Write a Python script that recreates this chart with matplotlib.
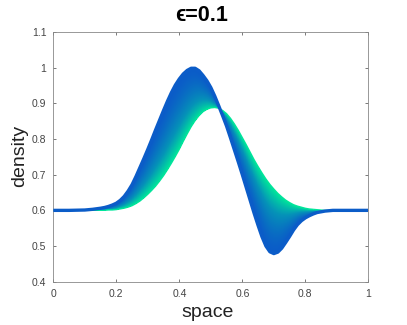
import numpy as np
import matplotlib
matplotlib.use("Agg")
import matplotlib.pyplot as plt
from matplotlib.colors import LinearSegmentedColormap, PowerNorm

plt.rcParams['font.family'] = ['Liberation Sans', 'DejaVu Sans']

# sample positions along the domain (denser where the profiles move)
x_space = [0.000, 0.050, 0.100, 0.125,
           0.1500, 0.1625, 0.1750, 0.1875, 0.2000, 0.2125, 0.2250, 0.2375,
           0.2500, 0.2625, 0.2750, 0.2875, 0.3000, 0.3125, 0.3250, 0.3375,
           0.3500, 0.3625, 0.3750, 0.3875, 0.4000, 0.4125, 0.4250, 0.4375,
           0.4500, 0.4625, 0.4750, 0.4875, 0.5000, 0.5125, 0.5250, 0.5375,
           0.5500, 0.5625, 0.5750, 0.5875, 0.6000, 0.6125, 0.6250, 0.6375,
           0.6500, 0.6625, 0.6750, 0.6875, 0.7000, 0.7125, 0.7250, 0.7375,
           0.7500, 0.7625, 0.7750, 0.7875, 0.8000, 0.8125, 0.8250, 0.8375,
           0.8500, 0.8625, 0.8750, 0.8875, 0.9000,
           0.950, 1.000]

# initial profile (thick blue curve)
rho_init = [0.600, 0.600, 0.601, 0.603,
            0.606, 0.608, 0.611, 0.615, 0.620, 0.628, 0.639, 0.654,
            0.672, 0.695, 0.720, 0.745, 0.771, 0.798, 0.826, 0.853,
            0.880, 0.906, 0.930, 0.951, 0.968, 0.982, 0.992, 0.998,
            0.998, 0.991, 0.978, 0.963, 0.944, 0.920, 0.893, 0.865,
            0.836, 0.803, 0.769, 0.735, 0.700, 0.664, 0.628, 0.592,
            0.558, 0.526, 0.500, 0.484, 0.479, 0.483, 0.494, 0.510,
            0.527, 0.545, 0.560, 0.571, 0.579, 0.585, 0.590, 0.594,
            0.596, 0.598, 0.599, 0.600, 0.600,
            0.600, 0.600]

# last profile (green curve)
rho_last = [0.600, 0.600, 0.600, 0.600,
            0.600, 0.600, 0.601, 0.601, 0.602, 0.604, 0.606, 0.609,
            0.613, 0.619, 0.626, 0.635, 0.645, 0.656, 0.668, 0.682,
            0.697, 0.714, 0.732, 0.751, 0.771, 0.793, 0.814, 0.834,
            0.851, 0.865, 0.876, 0.883, 0.887, 0.888, 0.886, 0.880,
            0.871, 0.858, 0.842, 0.824, 0.804, 0.784, 0.763, 0.742,
            0.723, 0.705, 0.688, 0.673, 0.660, 0.648, 0.638, 0.629,
            0.622, 0.616, 0.612, 0.609, 0.606, 0.604, 0.603, 0.602,
            0.601, 0.600, 0.600, 0.600, 0.600,
            0.600, 0.600]

x_ticks = [0, 0.2, 0.4, 0.6, 0.8, 1]
x_ticklabels = ['0', '0.2', '0.4', '0.6', '0.8', '1']
y_ticks = [0.4, 0.5, 0.6, 0.7, 0.8, 0.9, 1.0, 1.1]
y_ticklabels = ['0.4', '0.5', '0.6', '0.7', '0.8', '0.9', '1', '1.1']

blue = '#0B5CC8'
green = '#00E69A'
cmap = LinearSegmentedColormap.from_list('evo', [blue, '#0592B8', green])

fig = plt.figure(figsize=(4.07, 3.25), dpi=100)
ax = fig.add_axes([0.131, 0.133, 0.774, 0.769])

xs = np.array(x_space)
b = np.array(rho_init)
g = np.array(rho_last)

# gradient shading of the band swept between the first and last profile
xx = np.linspace(0, 1, 1400)
yy = np.linspace(0.4, 1.1, 1000)
bi = np.interp(xx, xs, b)
gi = np.interp(xx, xs, g)
X, Y = np.meshgrid(xx, yy)
diff = gi - bi
safe = np.where(np.abs(diff) < 1e-6, 1e-6, diff)
t = (Y - bi) / safe
inside = (t >= 0) & (t <= 1) & (np.abs(diff) > 1e-4)
shade = np.ma.masked_where(~inside, np.clip(t, 0, 1))
ax.imshow(shade, extent=[0, 1, 0.4, 1.1], origin='lower', aspect='auto',
          cmap=cmap, norm=PowerNorm(gamma=1.6, vmin=0, vmax=1),
          interpolation='nearest', zorder=1)

ax.plot(xs, g, color=green, lw=0.9, zorder=2)
ax.plot(xs, b, color=blue, lw=2.4, zorder=3, solid_capstyle='butt')

ax.set_xlim(0, 1)
ax.set_ylim(0.4, 1.1)
ax.set_xticks(x_ticks)
ax.set_xticklabels(x_ticklabels)
ax.set_yticks(y_ticks)
ax.set_yticklabels(y_ticklabels)
ax.tick_params(direction='in', length=2.5, width=0.5, colors='#444444',
               labelsize=7.5, top=True, right=True)
ax.tick_params(axis='x', pad=5.5)
ax.tick_params(axis='y', pad=5)
for s in ax.spines.values():
    s.set_color('#888888')
    s.set_linewidth(0.6)

fig.text(0.509, 0.037, 'space', ha='center', va='center', fontsize=14, color='#222222')
fig.text(0.049, 0.52, 'density', ha='center', va='center', rotation=90, fontsize=14, color='#222222')
fig.text(0.496, 0.953, 'ϵ=0.1', ha='center', va='center', fontsize=15.5, fontweight='bold')

fig.savefig('out.png', dpi=100)
